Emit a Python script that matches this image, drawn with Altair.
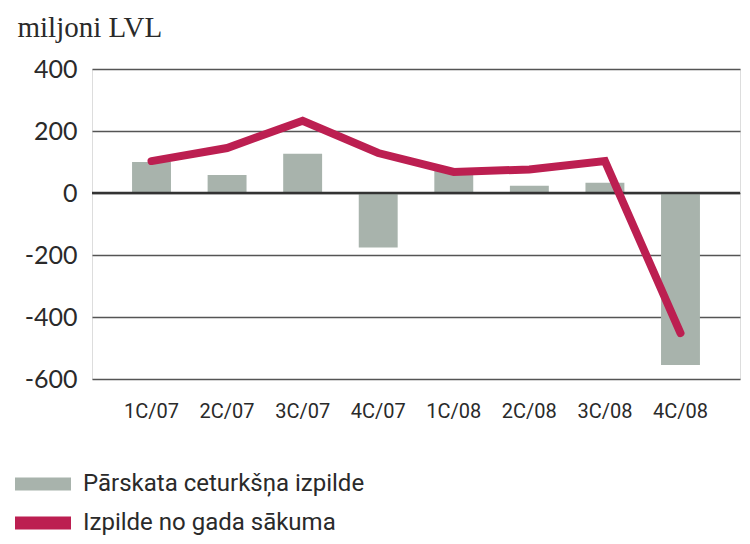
import altair as alt
import pandas as pd

quarters = ["1C/07", "2C/07", "3C/07", "4C/07", "1C/08", "2C/08", "3C/08", "4C/08"]
quarterly = [100, 58, 127, -176, 72, 23, 33, -555]
cumulative = [103, 145, 233, 129, 68, 76, 103, -452]
series_names = ["Pārskata ceturkšņa izpilde", "Izpilde no gada sākuma"]
series_colors = ["#A8B3AC", "#BC1F51"]
y_ticks = [-600, -400, -200, 0, 200, 400]

bar_df = pd.DataFrame({"q": quarters, "v": quarterly, "s": series_names[0]})
line_df = pd.DataFrame({"q": quarters, "v": cumulative})
zero_df = pd.DataFrame({"v": [0]})

xscale = alt.Scale(domain=quarters, paddingInner=0.485, paddingOuter=0.53, round=False)
yscale = alt.Scale(domain=[-600, 400], nice=False, zero=False)

x_enc = alt.X("q:N", scale=xscale, sort=quarters, axis=alt.Axis(
    title=None, domain=False, ticks=False, labelAngle=0, labelPadding=22,
    labelFont="Roboto", labelFontSize=20, labelColor="#2a2a2a"))

y_axis = alt.Axis(
    values=y_ticks, domain=False, ticks=False, grid=True, gridColor="#555",
    gridWidth=1.5, labelPadding=15, labelFont="Lato", labelFontSize=25,
    labelExpr="replace(datum.label, '\u2212', '-')",
    labelColor="#2a2a2a", title="miljoni LVL", titleAngle=0, titleAlign="left",
    titleBaseline="alphabetic", titleX=-75, titleY=-33, titleFont="Liberation Serif",
    titleFontSize=29, titleFontWeight="normal", titleColor="#2a2a2a")

bars = alt.Chart(bar_df).mark_bar().encode(
    x=x_enc,
    y=alt.Y("v:Q", scale=yscale, axis=y_axis),
    color=alt.Color("s:N", scale=alt.Scale(domain=series_names, range=series_colors),
                    legend=alt.Legend(
                        title=None, orient="none", legendX=-77, legendY=400,
                        symbolType="M-1,-0.232H1V0.232H-1Z", symbolSize=3136,
                        symbolStrokeWidth=0, labelFont="Roboto",
                        labelFontSize=24, labelColor="#2a2a2a", labelOffset=12,
                        labelLimit=400, clipHeight=30, rowPadding=9,
                        direction="vertical")),
)

zero = alt.Chart(zero_df).mark_rule(color="#333", strokeWidth=2.5).encode(
    y=alt.Y("v:Q", scale=yscale))

line = alt.Chart(line_df).mark_line(
    color=series_colors[1], strokeWidth=8, strokeCap="round", strokeJoin="miter").encode(
    x=alt.X("q:N", scale=xscale, sort=quarters),
    y=alt.Y("v:Q", scale=yscale))

chart = alt.layer(bars, zero, line).properties(
    width=648, height=310,
    autosize=alt.AutoSizeParams(type="none"),
    padding={"left": 84, "top": 61, "right": 2, "bottom": 157},
).configure_view(stroke=None).configure(background="white")

chart.save("out.html", embed_options={"renderer": "svg", "actions": False})
